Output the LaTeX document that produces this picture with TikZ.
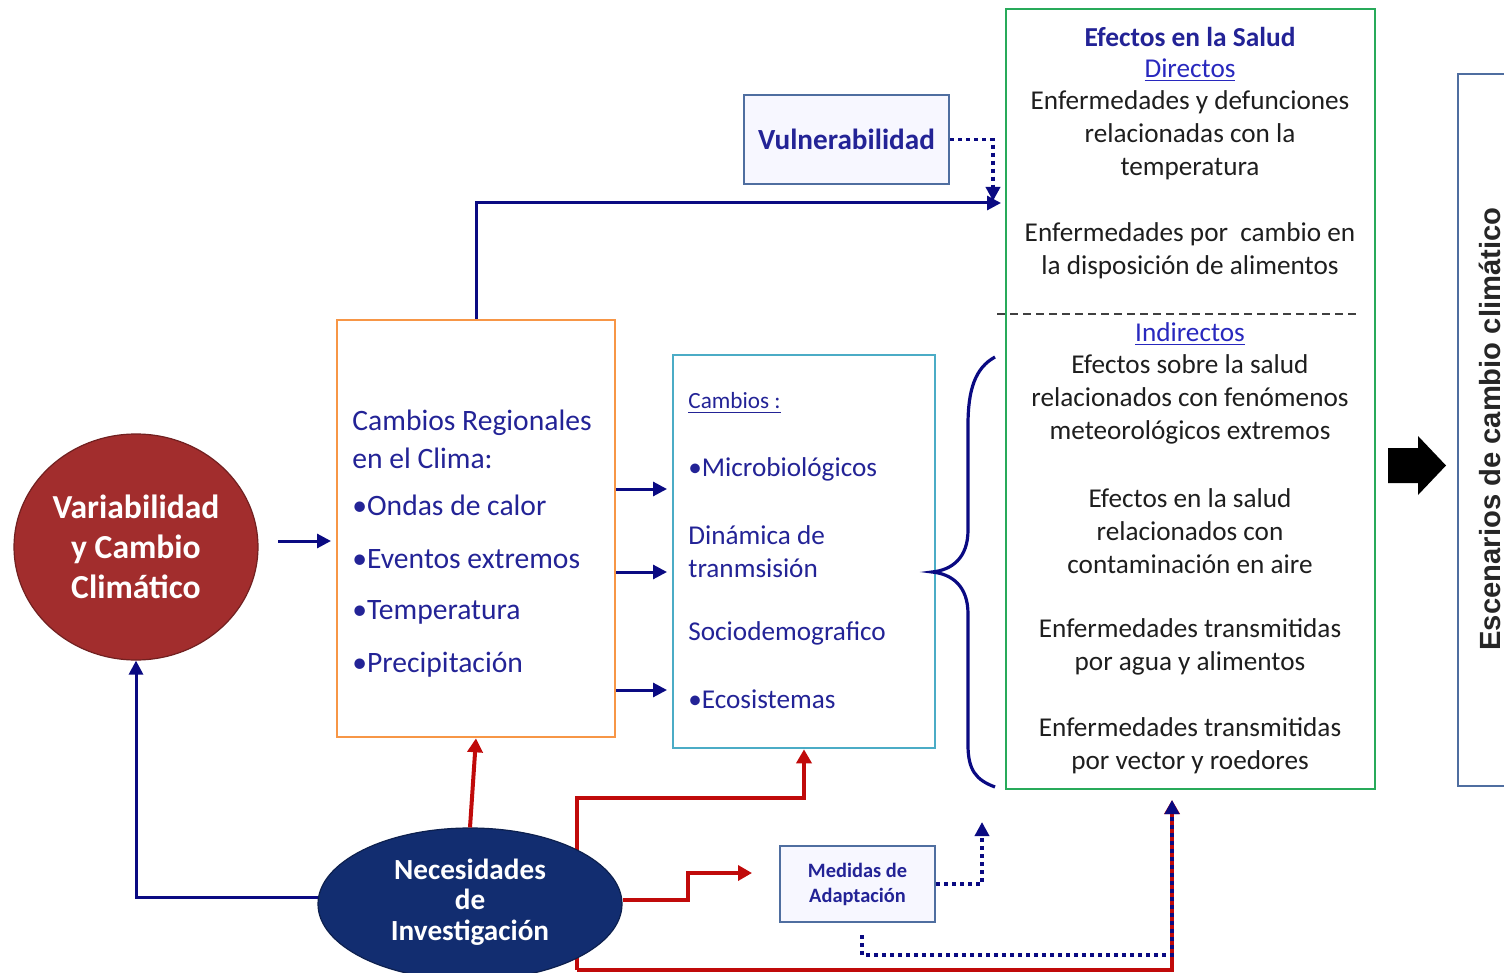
\documentclass[tikz,border=0pt]{standalone}
\usepackage{fontspec}
\setmainfont{Carlito}
\newfontfamily\arialf{Liberation Sans}
\usetikzlibrary{arrows.meta,shapes.geometric,calc}
\definecolor{navy}{RGB}{10,10,130}
\definecolor{txtblue}{RGB}{35,35,150}
\definecolor{ulblue}{RGB}{40,40,190}
\definecolor{myred}{RGB}{192,10,10}
\definecolor{orng}{RGB}{247,150,70}
\definecolor{teal2}{RGB}{75,172,198}
\definecolor{grn}{RGB}{40,170,90}
\definecolor{steel}{RGB}{79,110,160}
\definecolor{clred}{RGB}{162,45,45}
\definecolor{necblue}{RGB}{18,45,112}
\definecolor{txtblack}{RGB}{30,30,30}
\begin{document}
\begin{tikzpicture}[x=0.5pt,y=-0.5pt,
  boxo/.style={draw=orng,line width=1.3pt,minimum width=139pt,minimum height=208.5pt,inner sep=0pt},
  boxt/.style={draw=teal2,line width=1.3pt,minimum width=131pt,minimum height=196.5pt,inner sep=0pt},
  boxg/.style={draw=grn,line width=1.3pt,minimum width=184.5pt,minimum height=390pt,inner sep=0pt},
  smallbox/.style={draw=steel,line width=1.2pt,fill=blue!3,inner sep=0pt,align=center,text=txtblue,font=\bfseries},
  lt/.style={anchor=west,text=txtblue,inner sep=0pt},
  gt/.style={align=center,text=txtblack,inner sep=0pt,font=\fontsize{13.6}{16.5}\selectfont},
  arr/.style={draw=navy,line width=1.5pt,-{Triangle[length=7pt,width=7pt]}},
  redarr/.style={draw=myred,line width=2pt,-{Triangle[length=7pt,width=7.5pt]}},
  dotln/.style={draw=navy,line width=1.8pt,dash pattern=on 2pt off 2pt},
  dotarr/.style={dotln,-{Triangle[length=7pt,width=7pt]}}]
\useasboundingbox (0,0) rectangle (1504,973);
\clip (0,0) rectangle (1504,973);

% red lines behind the ellipse
\coordinate (rb) at (577,970);
\coordinate (rt) at (1172,800);
\node[boxt] (teal) at (804,551.5) {};
\draw[redarr] (rb) -- (577,798) -| (teal.south);
\draw[redarr] (rb) -- (1172,970) -- (rt);

% main nodes
\node[ellipse,fill=clred,draw=clred!70!black,line width=0.6pt,minimum width=122pt,minimum height=113pt,inner sep=0pt] (clima) at (136,547) {};
\node[text=white,align=center,inner sep=0pt,font=\fontsize{16.8}{20}\selectfont\bfseries] (climat) at (clima.center)
      {Variabilidad\\y Cambio\\Climático};
\node[boxo] (orange) at (476,528.5) {};
\node[boxg] (green) at (1190.5,399) {};
\node[smallbox,minimum width=102.5pt,minimum height=44.5pt,font=\fontsize{14.6}{16}\selectfont\bfseries] (vul) at (846.5,139.5) {Vulnerabilidad};
\node[smallbox,minimum width=77.5pt,minimum height=38pt,font=\fontsize{10.2}{12.5}\selectfont\bfseries] (med) at (857.5,884) {Medidas de\\Adaptación};
\node[ellipse,fill=necblue,draw=necblue!70!black,line width=0.6pt,minimum width=152pt,minimum height=76pt,inner sep=0pt] (nec) at (470,904) {};
\node[text=white,align=center,inner sep=0pt,font=\fontsize{14.6}{15.3}\selectfont\bfseries] (nect) at (470,902)
      {Necesidades\\de\\Investigación};

% orange box text
\begin{scope}[font=\fontsize{14.8}{16}\selectfont]
\node[lt] (o1) at (352,423) {Cambios Regionales};
\node[lt] (o2) at (352,458) {en el Clima:};
\node[lt] (o3) at (352,505) {•Ondas de calor};
\node[lt] (o4) at (352,559) {•Eventos extremos};
\node[lt] (o5) at (352,612) {•Temperatura};
\node[lt] (o6) at (352,665) {•Precipitación};
\end{scope}

% teal box text
\node[lt,font=\fontsize{11.6}{12}\selectfont] (c0) at (688,403) {\underline{Cambios :}};
\begin{scope}[font=\fontsize{13.6}{16.5}\selectfont]
\node[lt] (c1) at (688,469) {•Microbiológicos};
\node[lt] (c2) at (688,535) {Dinámica de};
\node[lt] (c3) at (688,568) {tranmsisión};
\node[lt] (c4) at (688,633) {Sociodemografico};
\node[lt] (c5) at (688,699) {•Ecosistemas};
\end{scope}

% green box text
\node[gt,text=txtblue,font=\fontsize{13.7}{16.5}\selectfont\bfseries] (g0) at (1190,37) {Efectos en la Salud};
\node[gt,text=ulblue] (g1) at (1190,70) {\underline{Directos}};
\node[gt] (g2) at (1190,135) {Enfermedades y defunciones\\relacionadas con la\\temperatura};
\node[gt] (g3) at (1190,251) {Enfermedades por\ \ cambio en\\la disposición de alimentos};
\coordinate (dl) at (997,314);
\coordinate (dr) at (1360,314);
\draw[black!75,line width=0.9pt,dash pattern=on 4pt off 2.5pt] (dl) -- (dr);
\node[gt,text=ulblue] (g4) at (1190,334) {\underline{Indirectos}};
\node[gt] (g5) at (1190,399) {Efectos sobre la salud\\relacionados con fenómenos\\meteorológicos extremos};
\node[gt] (g6) at (1190,531) {Efectos en la salud\\relacionados con\\contaminación en aire};
\node[gt] (g7) at (1190,646.5) {Enfermedades transmitidas\\por agua y alimentos};
\node[gt] (g8) at (1190,745.5) {Enfermedades transmitidas\\por vector y roedores};

% right box (partially cut)
\node[draw=steel,line width=1.2pt,minimum width=80pt,minimum height=356pt,inner sep=0pt] (esc) at (1538,430) {};
\node[rotate=90,font=\arialf\bfseries\fontsize{14.6}{16}\selectfont,text=black!85] (esct) at (1490,429) {Escenarios de cambio climático};

% block arrow
\fill[black] (1388,448) -- (1418,448) -- (1418,436) -- (1446,465.5) -- (1418,495) -- (1418,483) -- (1388,483) -- cycle;

% brace
\coordinate (bt) at (995,357);
\coordinate (bb) at (995,787);
\coordinate (bm) at (932,572);
\draw[navy,line width=1.6pt] (bt) .. controls (975,368) and (968,390) .. (968,425) -- (968,530)
   .. controls (968,558) and (952,570) .. (bm)
   .. controls (952,574) and (968,586) .. (968,614) -- (968,745)
   .. controls (968,770) and (976,780) .. (bb);

% navy arrows
\coordinate (a0s) at (278,541);
\coordinate (a0e) at (331,541);
\draw[arr] (a0s) -- (a0e);
\coordinate (t1) at (667,489);
\coordinate (t2) at (667,572);
\coordinate (t3) at (667,690);
\draw[arr] (orange.east |- t1) -- (t1);
\draw[arr] (orange.east |- t2) -- (t2);
\draw[arr] (orange.east |- t3) -- (t3);
\coordinate (gv) at (1001,203);
\draw[arr] (orange.north) |- (gv);
\coordinate (vd) at (993,201);
\draw[dotarr] (vul.east) -| (vd);
\coordinate (nw) at (318,897);
\draw[arr] (nw) -| (clima.south);

% red arrows
\draw[redarr] (nec.north) -- (orange.south);
\coordinate (rm) at (752,873);
\draw[redarr] (nec.east |- 0,900) -- (688,900) |- (rm);

% dotted arrows from medidas
\coordinate (md) at (982,822);
\draw[dotarr] (med.east) -| (md);
\coordinate (ms) at (862,935);
\draw[dotarr] (ms) -- (862,955) -| (rt);
\end{tikzpicture}
\end{document}
